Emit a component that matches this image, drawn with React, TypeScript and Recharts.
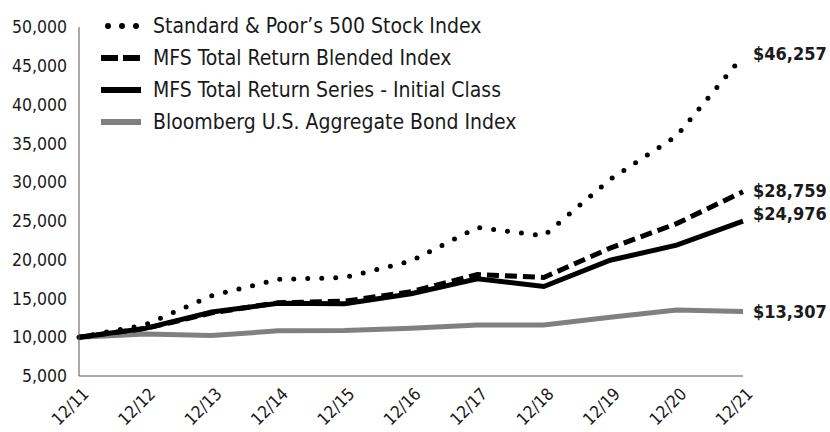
import { LineChart, Line, XAxis, YAxis } from 'recharts';

const years = ['12/11', '12/12', '12/13', '12/14', '12/15', '12/16', '12/17', '12/18', '12/19', '12/20', '12/21'];
const sp500 = [10000, 11600, 15357, 17460, 17701, 19818, 24145, 23087, 30357, 35943, 46257];
const blended = [10000, 11130, 13140, 14450, 14640, 15860, 18090, 17700, 21500, 24650, 28759];
const fund = [10000, 11140, 13245, 14370, 14311, 15615, 17540, 16537, 19930, 21865, 24976];
const bond = [10000, 10421, 10211, 10821, 10880, 11169, 11564, 11565, 12574, 13518, 13307];
const yTicks = [5000, 10000, 15000, 20000, 25000, 30000, 35000, 40000, 45000, 50000];

const data = years.map((year, i) => ({
  year,
  sp500: sp500[i],
  blended: blended[i],
  fund: fund[i],
  bond: bond[i],
}));

const FONT = "'DejaVu Sans Condensed', 'DejaVu Sans', sans-serif";
const INK = '#1a1a1a';
const GRAY = '#808080';

const legendItems = [
  { key: 'sp500', label: 'Standard & Poor\u2019s 500 Stock Index' },
  { key: 'blended', label: 'MFS Total Return Blended Index' },
  { key: 'fund', label: 'MFS Total Return Series - Initial Class' },
  { key: 'bond', label: 'Bloomberg U.S. Aggregate Bond Index' },
];

function Marker({ kind }: { kind: string }) {
  return (
    <svg width={44} height={10} style={{ display: 'block' }}>
      {kind === 'sp500' && [5, 19, 33].map((cx) => <circle key={cx} cx={cx + 3} cy={5} r={3} fill="#000" />)}
      {kind === 'blended' && (
        <>
          <rect x={1} y={2} width={17} height={6} fill="#000" />
          <rect x={23} y={2} width={17} height={6} fill="#000" />
        </>
      )}
      {kind === 'fund' && <rect x={1} y={2} width={40} height={6} fill="#000" />}
      {kind === 'bond' && <rect x={1} y={2} width={40} height={6} fill={GRAY} />}
    </svg>
  );
}

function LegendBox() {
  return (
    <div
      style={{
        position: 'absolute',
        left: 100,
        top: 10,
        fontFamily: FONT,
        fontSize: 21,
        color: INK,
        pointerEvents: 'none',
      }}
    >
      {legendItems.map((it) => (
        <div key={it.key} style={{ display: 'flex', alignItems: 'center', height: 32 }}>
          <Marker kind={it.key} />
          <span style={{ marginLeft: 9, whiteSpace: 'nowrap', lineHeight: '32px' }}>{it.label}</span>
        </div>
      ))}
    </div>
  );
}

function XTick(props: any) {
  const { x, y, payload } = props;
  return (
    <g transform={`translate(${x + 11},${y + 11}) rotate(-45)`}>
      <text textAnchor="end" fontFamily={FONT} fontSize={17} fill={INK}>
        {payload.value}
      </text>
    </g>
  );
}

function endLabel(shift: number) {
  return (props: any) => {
    const { x, y, index, value } = props;
    if (index !== years.length - 1) return null;
    return (
      <text
        x={x + 10}
        y={y + shift}
        dy={6}
        fontFamily={FONT}
        fontSize={18}
        fontWeight="bold"
        fill={INK}
      >
        {'$' + Number(value).toLocaleString('en-US')}
      </text>
    );
  };
}

export default function App() {
  return (
    <div style={{ position: 'absolute', left: 0, top: 0, width: 830, height: 432, background: '#fff' }}>
      <LineChart width={830} height={432} data={data} margin={{ top: 27, right: 87, bottom: 0, left: 0 }}>
        <XAxis
          dataKey="year"
          height={56}
          tickLine={false}
          axisLine={{ stroke: '#555', strokeWidth: 1 }}
          tick={<XTick />}
          interval={0}
        />
        <YAxis
          domain={[5000, 50000]}
          ticks={yTicks}
          interval={0}
          width={79}
          tickLine={false}
          axisLine={{ stroke: '#555', strokeWidth: 1 }}
          tickFormatter={(v: number) => v.toLocaleString('en-US')}
          tick={{ fontFamily: FONT, fontSize: 17.5, fill: INK }}
          tickMargin={6}
        />
        <Line
          dataKey="bond"
          stroke={GRAY}
          strokeWidth={5}
          dot={false}
          isAnimationActive={false}
          label={endLabel(0)}
        />
        <Line
          dataKey="sp500"
          stroke="#000"
          strokeWidth={5}
          strokeDasharray="0 14"
          strokeLinecap="round"
          dot={false}
          isAnimationActive={false}
          label={endLabel(-2)}
        />
        <Line
          dataKey="fund"
          stroke="#000"
          strokeWidth={5}
          dot={false}
          isAnimationActive={false}
          label={endLabel(-7)}
        />
        <Line
          dataKey="blended"
          stroke="#000"
          strokeWidth={5}
          strokeDasharray="12 6"
          dot={false}
          isAnimationActive={false}
          label={endLabel(-1)}
        />
      </LineChart>
      <LegendBox />
    </div>
  );
}
